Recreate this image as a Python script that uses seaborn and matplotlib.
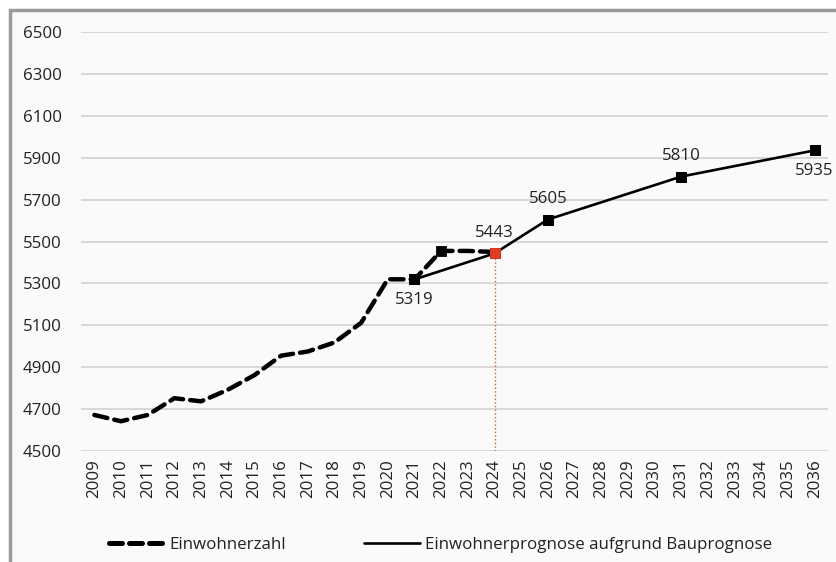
import matplotlib
matplotlib.use("Agg")
import matplotlib.pyplot as plt
from matplotlib.lines import Line2D
from matplotlib.patches import Rectangle
import seaborn as sns
import pandas as pd

# ---- data ----
hist_years = [2009, 2010, 2011, 2012, 2013, 2014, 2015, 2016, 2017, 2018,
              2019, 2020, 2021, 2022, 2023, 2024]
hist_values = [4672, 4642, 4672, 4752, 4737, 4792, 4862, 4955, 4975, 5018,
               5112, 5320, 5319, 5455, 5455, 5450]
prog_years = [2021, 2024, 2026, 2031, 2036]
prog_values = [5319, 5443, 5605, 5810, 5935]
hist_marker_years = [2022]
hist_marker_values = [5455]
highlight_year = [2024]
highlight_value = [5443]
label_years = [2021, 2024, 2026, 2031, 2036]
label_values = [5319, 5443, 5605, 5810, 5935]
label_below = [True, False, False, False, True]
all_years = list(range(2009, 2037))
y_ticks = [4500, 4700, 4900, 5100, 5300, 5500, 5700, 5900, 6100, 6300, 6500]
legend_labels = ["Einwohnerzahl", "Einwohnerprognose aufgrund Bauprognose"]

sns.set_theme(style="white")
plt.rcParams['font.family'] = ['Open Sans', 'DejaVu Sans']

FS = 12.2
fig = plt.figure(figsize=(8.36, 5.62), dpi=100)
fig.patch.set_facecolor("white")
W, H = 836, 562
frame = Rectangle((10 / W, -0.05), 1.2, 1 - 10 / H + 0.05, transform=fig.transFigure,
                  facecolor="#fafafa", edgecolor="#9a9a9a", linewidth=2.5, zorder=-10)
fig.patches.append(frame)

ax = fig.add_axes([81 / W, 1 - 451 / H, (828 - 81) / W, (451 - 32) / H])
ax.set_facecolor("none")
ax.set_zorder(1)

df_hist = pd.DataFrame({"Jahr": hist_years, "Wert": hist_values})
df_prog = pd.DataFrame({"Jahr": prog_years, "Wert": prog_values})

sns.lineplot(data=df_hist, x="Jahr", y="Wert", ax=ax, color="black", linewidth=3.2,
             zorder=3)
ax.lines[-1].set_dashes([3.0, 1.6])
ax.lines[-1].set_dash_capstyle("round")
sns.lineplot(data=df_prog, x="Jahr", y="Wert", ax=ax, color="black", linewidth=1.9,
             marker="s", markersize=7, markeredgecolor="black", zorder=4)
sns.scatterplot(x=hist_marker_years, y=hist_marker_values, ax=ax, marker="s", s=55,
                color="black", edgecolor="black", zorder=5)
ax.vlines(highlight_year, y_ticks[0], highlight_value, colors="#e4572e",
          linestyles=":", linewidth=1.0, zorder=2)
sns.scatterplot(x=highlight_year, y=highlight_value, ax=ax, marker="s", s=60,
                color="#e03c1f", edgecolor="#e03c1f", zorder=6)

for yr, v, below in zip(label_years, label_values, label_below):
    ax.annotate(f"{v}", (yr, v), xytext=(0, -15 if below else 15),
                textcoords="offset points", ha="center", va="center",
                fontsize=FS, color="#222222")

ax.set_xlim(2008.5, 2036.5)
ax.set_ylim(4500, 6500)
ax.set_yticks(y_ticks)
ax.set_yticklabels([str(t) for t in y_ticks])
ax.set_xticks(all_years)
ax.set_xticklabels([str(y) for y in all_years], rotation=90)
ax.tick_params(axis="both", labelsize=FS, colors="#222222", length=0)
ax.tick_params(axis="y", pad=14)
ax.tick_params(axis="x", pad=6)
ax.grid(axis="y", color="#d9d4d0", linewidth=1.3)
ax.grid(axis="x", visible=False)
for s in ax.spines.values():
    s.set_visible(False)
ax.set_xlabel("")
ax.set_ylabel("")
leg = ax.get_legend()
if leg:
    leg.remove()

handles = [Line2D([0], [0], color="black", linewidth=3.6, dashes=[2.6, 1.4],
                  dash_capstyle="round"),
           Line2D([0], [0], color="black", linewidth=1.9)]
fig.legend(handles, legend_labels, loc="center", bbox_to_anchor=(0.527, 1 - 545 / H),
           ncol=2, frameon=False, fontsize=FS, handlelength=3.3, handletextpad=0.3,
           columnspacing=4.6, labelcolor="#222222")

fig.savefig("out.png", dpi=100, facecolor="white")
